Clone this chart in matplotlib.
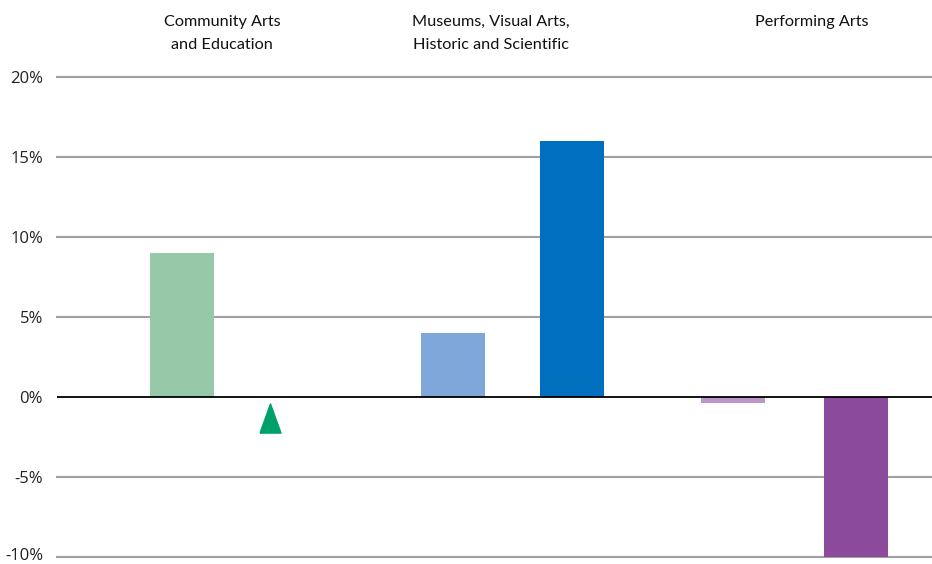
import matplotlib
matplotlib.use("Agg")
import matplotlib.pyplot as plt
import matplotlib.transforms as mtransforms

# values (%)
groups = ["Community Arts\nand Education", "Museums, Visual Arts,\nHistoric and Scientific", "Performing Arts"]
first_vals = [9.0, 4.0, -0.4]
second_vals = [None, 16.0, -10.0]
marker_val = -1.3   # community arts second series shown as a marker
yticks = [-10, -5, 0, 5, 10, 15, 20]

first_colors = ["#95c9a8", "#7fa7d9", "#bc96c8"]
second_colors = ["#00a06a", "#0070be", "#8b4a9c"]

# layout in pixel-like x units (axes spans 875 px)
first_x = [125, 396, 676]
second_x = [213, 515, 799]
title_x = [165, 434, 755]

fig = plt.figure(figsize=(9.32, 5.64), dpi=100)
ax = fig.add_axes([57 / 932, 7 / 564, 875 / 932, 480 / 564])

ax.set_xlim(0, 875)
ax.set_ylim(-10, 20)

tri = [(-0.72, -1), (0.72, -1), (0, 1), (-0.72, -1)]

for x, v, c in zip(first_x, first_vals, first_colors):
    ax.bar(x, v, width=64, color=c, zorder=2)
for x, v, c in zip(second_x, second_vals, second_colors):
    if v is None:
        ax.plot(x, marker_val, marker=tri, markersize=21, color=c,
                linestyle="none", zorder=3, clip_on=False)
    else:
        ax.bar(x, v, width=64, color=c, zorder=2)

for y in yticks:
    if y == 0:
        ax.axhline(y, color="black", lw=1.3, zorder=4)
    else:
        ax.axhline(y, color="#a0a0a0", lw=1.5, zorder=1, clip_on=False)

ax.set_yticks(yticks)
ax.set_yticklabels([f"{t}%" for t in yticks], fontsize=12, family=["Open Sans", "DejaVu Sans"],
                   color="#222222")
ax.tick_params(axis="y", length=0, pad=10)
# nudge the bottom label so it stays inside the figure
lab = ax.get_yticklabels()[0]
lab.set_transform(lab.get_transform() + mtransforms.ScaledTranslation(0, 3 / 100, fig.dpi_scale_trans))
ax.set_xticks([])
for s in ax.spines.values():
    s.set_visible(False)

for x, g in zip(title_x, groups):
    ax.text(x, 1.129, g, transform=ax.get_xaxis_transform(), ha="center", va="top",
            fontsize=11.7, family=["Lato", "DejaVu Sans"],
            color="#111111", linespacing=1.8)

fig.savefig("out.png", dpi=100)
